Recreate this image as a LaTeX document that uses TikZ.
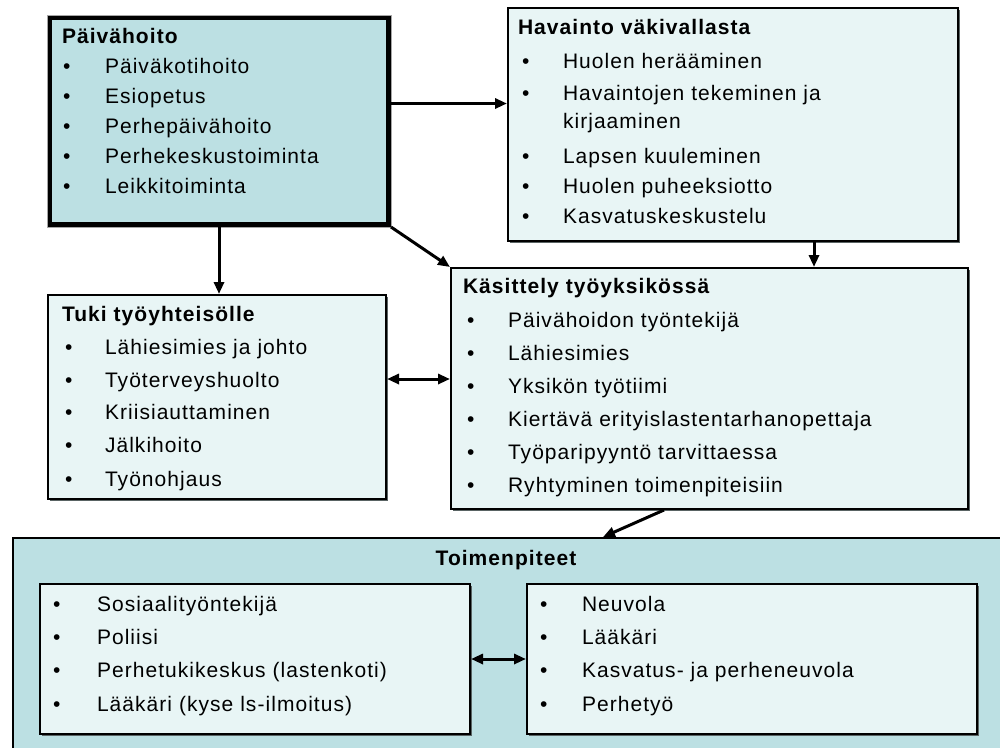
\documentclass[tikz,border=0pt]{standalone}
\usepackage{fontspec}
\setmainfont{Liberation Sans}[LetterSpace=5.0]
\usetikzlibrary{arrows.meta,shadows}

\definecolor{tealfill}{RGB}{188,224,227}
\definecolor{palefill}{RGB}{232,245,245}
\definecolor{shadowgray}{RGB}{90,100,100}

\tikzset{
  box/.style={rectangle, draw=black, line width=2pt, fill=palefill, inner sep=0pt,
    anchor=north west,
    drop shadow={shadow xshift=1.5pt, shadow yshift=-1.5pt, fill=shadowgray, opacity=1}},
  darkbox/.style={box, fill=tealfill},
  txt/.style={anchor=base west, inner sep=0pt, outer sep=0pt},
  headtxt/.style={txt, font=\fontsize{21}{25}\selectfont\bfseries},
  arr/.style={line width=3pt, -{Triangle[length=12pt,width=10pt]}},
  biarr/.style={line width=3pt, {Triangle[length=12pt,width=10pt]}-{Triangle[length=12pt,width=10pt]}}
}

% bullet line: name, bullet x, text x, baseline, text
\newcommand\bline[5]{%
  \node[txt] (#1b) at (#2,#4) {\textbullet};
  \node[txt] (#1) at (#3,#4) {#5};}

\begin{document}
\begin{tikzpicture}[x=1pt,y=-1pt,font=\fontsize{21}{25}\selectfont]
\useasboundingbox (0,0) rectangle (1000,747);
\clip (0,0) rectangle (1000,747);

% boxes
\node[darkbox, minimum width=339pt, minimum height=207pt, line width=5pt] (pv) at (47,15) {};
\draw[gray!70, line width=0.8pt] (pv.north west) rectangle (pv.south east);
\node[box, minimum width=450pt, minimum height=233pt] (hv) at (507,7) {};
\node[box, minimum width=338pt, minimum height=204pt] (tk) at (47,294) {};
\node[box, minimum width=517pt, minimum height=241pt] (ks) at (450,267) {};
\node[darkbox, minimum width=991pt, minimum height=213pt] (tm) at (12,537) {};
\node[box, minimum width=430pt, minimum height=150pt] (il) at (39,583) {};
\node[box, minimum width=450pt, minimum height=150pt] (ir) at (526,583) {};

% Päivähoito
\node[headtxt] (pvh) at (62,43) {Päivähoito};
\bline{pv1}{63}{105}{73}{Päiväkotihoito}
\bline{pv2}{63}{105}{103}{Esiopetus}
\bline{pv3}{63}{105}{133}{Perhepäivähoito}
\bline{pv4}{63}{105}{163}{Perhekeskustoiminta}
\bline{pv5}{63}{105}{193}{Leikkitoiminta}

% Havainto väkivallasta
\node[headtxt] (hvh) at (518,34) {Havainto väkivallasta};
\bline{hv1}{522}{563}{68}{Huolen herääminen}
\bline{hv2}{522}{563}{100}{Havaintojen tekeminen ja}
\node[txt] (hv2c) at (563,128) {kirjaaminen};
\bline{hv3}{522}{563}{163}{Lapsen kuuleminen}
\bline{hv4}{522}{563}{193}{Huolen puheeksiotto}
\bline{hv5}{522}{563}{223}{Kasvatuskeskustelu}

% Tuki työyhteisölle
\node[headtxt] (tkh) at (62,321) {Tuki työyhteisölle};
\bline{tk1}{65}{105}{354}{Lähiesimies ja johto}
\bline{tk2}{65}{105}{387}{Työterveyshuolto}
\bline{tk3}{65}{105}{419}{Kriisiauttaminen}
\bline{tk4}{65}{105}{452}{Jälkihoito}
\bline{tk5}{65}{105}{486}{Työnohjaus}

% Käsittely työyksikössä
\node[headtxt] (ksh) at (463,293) {Käsittely työyksikössä};
\bline{ks1}{467}{508}{327}{Päivähoidon työntekijä}
\bline{ks2}{467}{508}{360}{Lähiesimies}
\bline{ks3}{467}{508}{393}{Yksikön työtiimi}
\bline{ks4}{467}{508}{426}{Kiertävä erityislastentarhanopettaja}
\bline{ks5}{467}{508}{459}{Työparipyyntö tarvittaessa}
\bline{ks6}{467}{508}{492}{Ryhtyminen toimenpiteisiin}

% Toimenpiteet
\node[headtxt, anchor=base] (tmh) at (506,565) {Toimenpiteet};
\bline{il1}{53}{97}{611}{Sosiaalityöntekijä}
\bline{il2}{53}{97}{644}{Poliisi}
\bline{il3}{53}{97}{677}{Perhetukikeskus (lastenkoti)}
\bline{il4}{53}{97}{711}{Lääkäri (kyse ls-ilmoitus)}
\bline{ir1}{540}{582}{611}{Neuvola}
\bline{ir2}{540}{582}{644}{Lääkäri}
\bline{ir3}{540}{582}{677}{Kasvatus- ja perheneuvola}
\bline{ir4}{540}{582}{711}{Perhetyö}

% connectors
\draw[arr] ([yshift=17.5pt]pv.east) -- ([yshift=17.5pt]pv.east -| hv.west);
\draw[arr] (pv.south) -- (pv.south |- tk.north);
\draw[arr] (pv.south east) -- (ks.north west);
\draw[arr] ([xshift=81pt]hv.south) -- ([xshift=81pt]hv.south |- ks.north);
\draw[biarr] ([yshift=18pt]tk.east) -- ([yshift=18pt]tk.east -| ks.west);
\draw[arr] ([xshift=-45.5pt]ks.south) -- ([xshift=94.5pt]tm.north);
\draw[biarr] (il.east) -- (ir.west);
\end{tikzpicture}
\end{document}
